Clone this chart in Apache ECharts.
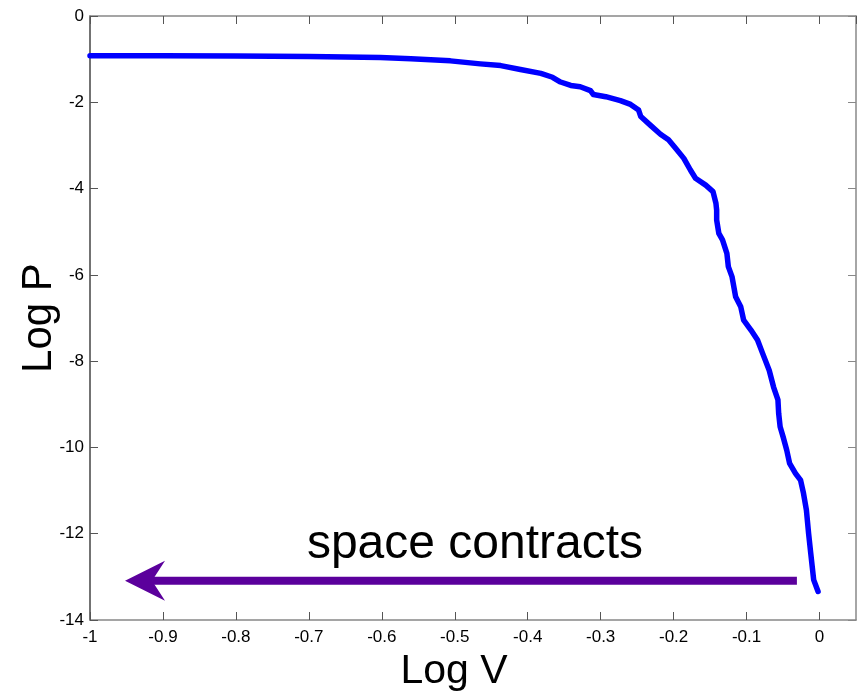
<!DOCTYPE html>
<html>
<head>
<meta charset="utf-8">
<script src="https://cdn.jsdelivr.net/npm/echarts@6/dist/echarts.min.js"></script>
<style>
  html, body { margin: 0; padding: 0; background: #fff; }
  #chart { width: 861px; height: 694px; }
</style>
</head>
<body>
<div id="chart"></div>
<script>
// Log V (x) and Log P (y) along the traced curve
const logV = [
  -1.0, -0.9, -0.8, -0.7, -0.65, -0.602, -0.56, -0.506, -0.465, -0.437, -0.41,
  -0.382, -0.366, -0.355, -0.341, -0.328, -0.314, -0.31, -0.293, -0.273,
  -0.259, -0.248, -0.245, -0.232, -0.218, -0.207, -0.197, -0.186, -0.177,
  -0.170, -0.156, -0.146, -0.142, -0.141, -0.141, -0.138, -0.133, -0.127,
  -0.125, -0.120, -0.115, -0.108, -0.104, -0.094, -0.085, -0.078, -0.069,
  -0.063, -0.057, -0.056, -0.054, -0.050, -0.045, -0.041, -0.033, -0.026,
  -0.022, -0.018, -0.015, -0.012, -0.008, -0.002
];
const logP = [
  -0.92, -0.92, -0.93, -0.94, -0.95, -0.96, -0.99, -1.04, -1.11, -1.15, -1.24,
  -1.33, -1.42, -1.53, -1.61, -1.64, -1.73, -1.82, -1.87, -1.96,
  -2.05, -2.18, -2.33, -2.53, -2.74, -2.87, -3.07, -3.30, -3.57,
  -3.76, -3.92, -4.07, -4.34, -4.50, -4.73, -5.04, -5.19, -5.50,
  -5.81, -6.04, -6.51, -6.74, -7.05, -7.28, -7.51, -7.82, -8.21,
  -8.60, -8.90, -9.21, -9.52, -9.75, -10.06, -10.37, -10.60, -10.76,
  -11.06, -11.45, -11.99, -12.46, -13.07, -13.34
];

// Arrow annotation: tail and tip in data units, plus its label
const arrowFrom = [-0.031, -13.09];
const arrowTo = [-0.952, -13.09];
const arrowLabel = 'space contracts';

const xTicks = { min: -1, max: 0.05, interval: 0.1 };
const yTicks = { min: -14, max: 0, interval: 2 };

const font = '"Liberation Sans", Arial, sans-serif';
const chart = echarts.init(document.getElementById('chart'));

const tickLabel = (v) => {
  const r = Math.round(v * 10) / 10;
  if (r > 0.001) return '';
  return String(r);
};

chart.setOption({
  animation: false,
  backgroundColor: '#ffffff',
  grid: { left: 90, top: 16, right: 5, bottom: 74, containLabel: false, outerBoundsMode: 'none' },
  xAxis: [
    {
      type: 'value', min: xTicks.min, max: xTicks.max, interval: xTicks.interval,
      name: 'Log V', nameLocation: 'middle', nameGap: 31, nameMoveOverlap: false,
      nameTextStyle: { fontFamily: font, fontSize: 41, color: '#000', padding: [0, 38, 0, 0] },
      axisLine: { show: true, onZero: false, lineStyle: { color: '#888', width: 1.5 } },
      axisTick: { show: true, inside: true, length: 8, lineStyle: { color: '#555' } },
      axisLabel: { fontFamily: font, fontSize: 17, color: '#000', margin: 9,
        formatter: tickLabel, showMaxLabel: false },
      splitLine: { show: false }
    },
    {
      type: 'value', position: 'top', min: xTicks.min, max: xTicks.max, interval: xTicks.interval,
      axisLine: { show: true, onZero: false, lineStyle: { color: '#888', width: 1.5 } },
      axisTick: { show: true, inside: true, length: 8, lineStyle: { color: '#555' } },
      axisLabel: { show: false }, splitLine: { show: false }
    }
  ],
  yAxis: [
    {
      type: 'value', min: yTicks.min, max: yTicks.max, interval: yTicks.interval,
      name: 'Log P', nameLocation: 'middle', nameGap: 30, nameRotate: 90, nameMoveOverlap: false,
      nameTextStyle: { fontFamily: font, fontSize: 42, color: '#000' },
      axisLine: { show: true, onZero: false, lineStyle: { color: '#444', width: 1.5 } },
      axisTick: { show: true, inside: true, length: 8, lineStyle: { color: '#555' } },
      axisLabel: { fontFamily: font, fontSize: 17, color: '#000', margin: 6 },
      splitLine: { show: false }
    },
    {
      type: 'value', position: 'right', min: yTicks.min, max: yTicks.max, interval: yTicks.interval,
      axisLine: { show: true, onZero: false, lineStyle: { color: '#888', width: 1.5 } },
      axisTick: { show: true, inside: true, length: 8, lineStyle: { color: '#888' } },
      axisLabel: { show: false }, splitLine: { show: false }
    }
  ],
  series: [
    {
      type: 'line',
      data: logV.map((v, i) => [v, logP[i]]),
      showSymbol: false,
      lineStyle: { color: '#0000ff', width: 5.5, join: 'round', cap: 'round' },
      z: 3
    },
    {
      type: 'custom',
      data: [[arrowFrom[0], arrowFrom[1], arrowTo[0], arrowTo[1]]],
      renderItem: (params, api) => {
        const a = api.coord([api.value(0), api.value(1)]);
        const b = api.coord([api.value(2), api.value(3)]);
        const headLen = 40, halfH = 20, notchBack = 13, half = 4;
        const dir = b[0] < a[0] ? -1 : 1;
        const back = b[0] - dir * headLen;
        const notchX = back + dir * notchBack;
        return {
          type: 'group',
          children: [
            { type: 'rect', shape: { x: Math.min(a[0], notchX), y: a[1] - half,
                width: Math.abs(a[0] - notchX), height: half * 2 },
              style: { fill: '#5b009c' } },
            { type: 'polygon', shape: { points: [
                [b[0], b[1]], [back, b[1] - halfH], [notchX, b[1]], [back, b[1] + halfH]
              ] }, style: { fill: '#5b009c' } },
            { type: 'text', style: {
                text: arrowLabel, x: (a[0] + b[0]) / 2 + 14, y: a[1] - 12,
                align: 'center', verticalAlign: 'bottom',
                font: '48px ' + font, fill: '#000'
              } }
          ]
        };
      },
      z: 4
    }
  ]
});
</script>
</body>
</html>
